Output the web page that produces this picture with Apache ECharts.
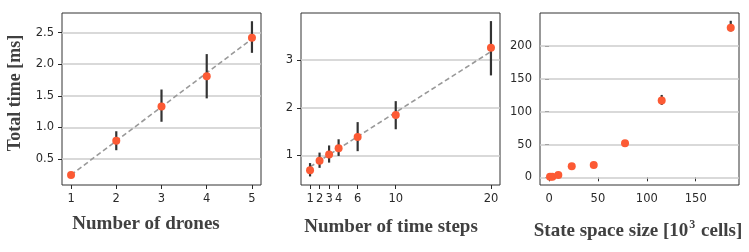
<!DOCTYPE html>
<html><head><meta charset="utf-8">
<script src="https://cdn.jsdelivr.net/npm/echarts@6/dist/echarts.min.js"></script>
<style>html,body{margin:0;padding:0;background:#fff}#c{width:749px;height:252px}</style>
</head><body><div id="c"></div>
<script>
// Panel 1: number of drones
const dronesX = [1, 2, 3, 4, 5];
const dronesMean = [0.25, 0.79, 1.33, 1.81, 2.42];
const dronesLow = [0.24, 0.64, 1.09, 1.46, 2.18];
const dronesHigh = [0.26, 0.94, 1.60, 2.16, 2.68];
const dronesTrend = [[1, 0.25], [5, 2.40]];
const dronesXTicks = [1, 2, 3, 4, 5];
const dronesYTicks = [0.5, 1.0, 1.5, 2.0, 2.5];

// Panel 2: number of time steps
const stepsX = [1, 2, 3, 4, 6, 10, 20];
const stepsMean = [0.69, 0.89, 1.02, 1.15, 1.39, 1.85, 3.26];
const stepsLow = [0.56, 0.74, 0.85, 0.99, 1.09, 1.55, 2.68];
const stepsHigh = [0.84, 1.06, 1.21, 1.34, 1.70, 2.14, 3.82];
const stepsTrend = [[1, 0.76], [20, 3.18]];
const stepsXTicks = [1, 2, 3, 4, 6, 10, 20];
const stepsYTicks = [1, 2, 3];

// Panel 3: state space size
const stateX = [1, 3.4, 9.5, 23.2, 45.7, 77.7, 115.2, 185.8];
const stateMean = [0.9, 0.9, 3.5, 16.8, 18.8, 51.9, 117, 228];
const stateLow = [0.5, 0.5, 3.0, 16.0, 18.0, 50.5, 110.4, 222.3];
const stateHigh = [1.3, 1.3, 4.0, 17.6, 19.6, 53.3, 125.6, 238.6];
const stateXTicks = [0, 50, 100, 150];
const stateYTicks = [0, 50, 100, 150, 200];

const xLabels = ['Number of drones', 'Number of time steps', '{a|State space size [10}{s|3}{a| cells]}'];
const yLabel = 'Total time [ms]';

const tickColor = '#2a2a2a';
const labelFont = 'DejaVu Sans';
const titleFont = '"Liberation Serif", "DejaVu Serif", serif';

function zip(a, b) { return a.map((v, i) => [v, b[i]]); }
function zip3(a, b, c) { return a.map((v, i) => [v, b[i], c[i]]); }

function xAxisCfg(i, min, max, ticks) {
  return {
    type: 'value', gridIndex: i, min: min, max: max,
    splitLine: { show: false }, axisLine: { show: false },
    axisTick: { show: true, customValues: ticks, length: 4, lineStyle: { color: tickColor, width: 1 } },
    axisLabel: { customValues: ticks, color: tickColor, fontSize: 11.5, fontFamily: labelFont, margin: 8 }
  };
}
function yAxisCfg(i, min, max, ticks, fmt) {
  return {
    type: 'value', gridIndex: i, min: min, max: max,
    splitLine: { show: false }, axisLine: { show: false },
    axisTick: { show: true, customValues: ticks, length: 4, lineStyle: { color: tickColor, width: 1 } },
    axisLabel: { customValues: ticks, color: tickColor, fontSize: 11.5, fontFamily: labelFont, margin: 8, formatter: fmt }
  };
}
function gridLines(ticks) {
  return {
    silent: true, symbol: ['none', 'none'], z: 1, animation: false,
    label: { show: false },
    lineStyle: { color: '#cccccc', type: 'solid', width: 1.5 },
    emphasis: { disabled: true },
    data: ticks.map(v => ({ yAxis: v }))
  };
}
function errRender(params, api) {
  const x = api.value(0), lo = api.value(1), hi = api.value(2);
  const p1 = api.coord([x, lo]), p2 = api.coord([x, hi]);
  return { type: 'line', shape: { x1: p1[0], y1: p1[1], x2: p2[0], y2: p2[1] },
    style: { stroke: '#333', lineWidth: 2.2 } };
}
function errSeries(i, data) {
  return { type: 'custom', xAxisIndex: i, yAxisIndex: i, z: 3, renderItem: errRender,
    encode: { x: 0, y: [1, 2] }, data: data, silent: true, animation: false };
}
function pointSeries(i, data, ticks) {
  const s = { type: 'scatter', xAxisIndex: i, yAxisIndex: i, z: 4, symbolSize: 8,
    itemStyle: { color: '#fc5a34', opacity: 1 }, data: data, silent: true, animation: false };
  if (ticks) s.markLine = gridLines(ticks);
  return s;
}
function trendSeries(i, data, ticks) {
  return { type: 'line', xAxisIndex: i, yAxisIndex: i, z: 2, data: data, showSymbol: false, symbol: 'none',
    lineStyle: { color: '#999', width: 1.6, type: [5, 3] }, silent: true, animation: false,
    markLine: gridLines(ticks) };
}

const grids = [
  { left: 62, top: 13, width: 199, height: 172 },
  { left: 301, top: 13, width: 199, height: 172 },
  { left: 540, top: 13, width: 199, height: 172 }
].map(g => Object.assign(g, { show: true, borderColor: '#333', borderWidth: 1, backgroundColor: 'transparent', containLabel: false }));

const chart = echarts.init(document.getElementById('c'), null, { renderer: 'canvas' });
chart.setOption({
  animation: false,
  grid: grids,
  xAxis: [
    xAxisCfg(0, 0.8, 5.2, dronesXTicks),
    xAxisCfg(1, 0.05, 20.95, stepsXTicks),
    xAxisCfg(2, -9.25, 194.25, stateXTicks)
  ],
  yAxis: [
    yAxisCfg(0, 0.09, 2.81, dronesYTicks, v => v.toFixed(1)),
    yAxisCfg(1, 0.38, 3.99, stepsYTicks),
    yAxisCfg(2, -11.7, 250.5, stateYTicks)
  ],
  series: [
    trendSeries(0, dronesTrend, dronesYTicks),
    errSeries(0, zip3(dronesX, dronesLow, dronesHigh)),
    pointSeries(0, zip(dronesX, dronesMean)),
    trendSeries(1, stepsTrend, stepsYTicks),
    errSeries(1, zip3(stepsX, stepsLow, stepsHigh)),
    pointSeries(1, zip(stepsX, stepsMean)),
    errSeries(2, zip3(stateX, stateLow, stateHigh)),
    pointSeries(2, zip(stateX, stateMean), stateYTicks)
  ],
  graphic: [
    { type: 'text', x: 146, y: 224, style: { text: xLabels[0], font: 'bold 19px ' + titleFont, fill: '#404040', textAlign: 'center', textVerticalAlign: 'middle' } },
    { type: 'text', x: 391, y: 227, style: { text: xLabels[1], font: 'bold 19px ' + titleFont, fill: '#404040', textAlign: 'center', textVerticalAlign: 'middle' } },
    { type: 'text', x: 638, y: 230, style: {
        text: xLabels[2], fill: '#404040', align: 'center', verticalAlign: 'middle',
        rich: {
          a: { fontSize: 19, fontWeight: 'bold', fontFamily: titleFont, fill: '#404040', lineHeight: 22, verticalAlign: 'bottom' },
          s: { fontSize: 12, fontWeight: 'bold', fontFamily: titleFont, fill: '#404040', lineHeight: 22, verticalAlign: 'top', padding: [0, 1, 0, 1] }
        } } },
    { type: 'text', x: 15, y: 93, rotation: Math.PI / 2, style: { text: yLabel, font: 'bold 18px ' + titleFont, fill: '#404040', textAlign: 'center', textVerticalAlign: 'middle' } }
  ]
});
</script></body></html>
